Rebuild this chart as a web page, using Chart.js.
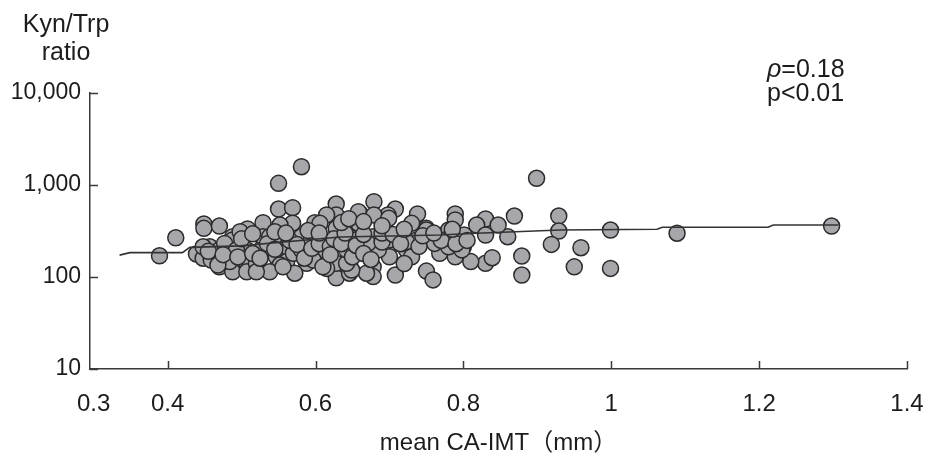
<!DOCTYPE html>
<html>
<head>
<meta charset="utf-8">
<style>
  html, body { margin: 0; padding: 0; background: #fff; }
  #wrap { width: 928px; height: 464px; }
</style>
<script src="https://cdn.jsdelivr.net/npm/chart.js@4.4.1/dist/chart.umd.min.js"></script>
</head>
<body>
<div id="wrap"><canvas id="scatterChart" width="928" height="464"></canvas></div>
<script>
// mean CA-IMT (mm) and Kyn/Trp ratio
const imtValues = [
  0.389, 0.411, 0.550, 0.581, 0.550, 0.569, 0.449, 0.449, 0.470, 0.529,
  0.628, 0.508, 0.488, 0.628, 0.599, 0.569, 0.552,
  0.899, 0.679, 0.708, 0.738, 0.789, 0.789, 0.830, 0.869, 0.929, 0.929,
  0.919, 0.959, 0.999, 0.999, 0.950, 0.879, 0.879, 0.830, 0.839, 0.810,
  0.750, 0.759, 0.708, 0.860, 0.847, 0.818, 0.830, 0.789, 0.800, 0.789,
  0.768, 0.750, 0.730, 0.737, 0.723, 0.730, 0.700, 0.678, 0.660, 0.658,
  0.678, 0.678, 0.669, 0.646, 0.698,
  0.628, 0.628, 0.658, 0.679, 0.699, 0.750, 0.780, 0.801, 0.649, 0.628,
  0.700, 0.685, 0.671, 0.649, 0.700, 0.723, 0.761, 0.780, 0.798, 0.780,
  0.615, 0.439, 0.448, 0.457, 0.448, 0.470, 0.470, 0.488, 0.488, 0.498,
  0.507, 0.507, 0.507, 0.520, 0.529, 0.529, 0.538, 0.538, 0.547, 0.552,
  0.561, 0.561, 0.570, 0.581, 0.581, 0.592, 0.588, 0.601, 0.610, 0.610,
  0.615, 0.572, 0.552, 0.538, 0.520, 0.484, 0.461,
  0.459, 0.468, 0.477, 0.493, 0.606, 0.597, 0.556, 0.610, 0.642, 0.642,
  0.655, 1.089, 1.298,
  0.455, 0.475, 0.495, 0.515, 0.525, 0.535, 0.545, 0.565, 0.575, 0.585,
  0.595, 0.605, 0.620, 0.620, 0.625, 0.635, 0.640, 0.650, 0.655, 0.665,
  0.665, 0.675, 0.690, 0.690, 0.705, 0.715, 0.720, 0.740, 0.745, 0.770,
  0.790, 0.805, 0.500, 0.515, 0.545, 0.560, 0.590, 0.605, 0.635, 0.645,
  0.665, 0.690, 0.720, 0.760, 0.785
];
const ratioValues = [
  170, 267, 1043, 1581, 548, 566, 377, 338, 358, 389,
  621, 333, 274, 98, 389, 385, 367,
  1183, 659, 548, 484, 484, 417, 427, 460, 460, 316,
  226, 208, 324, 124, 129, 169, 105, 141, 162, 147,
  116, 93, 105, 274, 367, 367, 286, 274, 213, 166,
  181, 338, 383, 253, 197, 166, 213, 274, 492, 383,
  129, 101, 110, 110, 472,
  472, 338, 513, 472, 435, 324, 324, 286, 119, 141,
  166, 197, 232, 264, 253, 242, 232, 213, 197, 264,
  472, 178, 160, 213, 213, 197, 129, 114, 253, 311,
  197, 141, 114, 141, 213, 274, 197, 274, 166, 242,
  213, 147, 181, 197, 274, 232, 141, 166, 253, 197,
  124, 110, 135, 114, 114, 147, 166,
  153, 135, 232, 197, 383, 153, 129, 129, 141, 197,
  253, 299, 358,
  190, 175, 165, 180, 160, 230, 200, 250, 225, 160,
  205, 230, 215, 175, 260, 230, 300, 165, 220, 290,
  180, 155, 240, 300, 290, 230, 140, 215, 280, 250,
  230, 250, 260, 295, 310, 300, 320, 300, 390, 430,
  400, 360, 330, 300, 330
];
// fitted trend line
const trendX = [0.335, 0.349, 0.420, 0.430, 0.498, 0.633, 0.768, 0.818, 0.931, 1.062, 1.069, 1.212, 1.219, 1.307];
const trendY = [173, 184, 184, 210, 218, 272, 286, 299, 324, 330, 347, 347, 367, 367];

const xTicks = [0.3, 0.4, 0.6, 0.8, 1, 1.2, 1.4];
const yTicks = [10, 100, 1000, 10000];

const axisColor = '#3a3a3a';
const textColor = '#1c1c1c';
const fontFamily = '"Liberation Sans", Arial, Helvetica, sans-serif';

const points = imtValues.map((x, i) => ({ x: x, y: ratioValues[i] }));
const trend = trendX.map((x, i) => ({ x: x, y: trendY[i] }));

// inward tick marks + free text (y title, correlation note)
const extras = {
    id: 'extras',
    afterDraw(chart) {
        const { ctx, chartArea, scales } = chart;
        ctx.save();
        ctx.strokeStyle = axisColor;
        ctx.lineWidth = 1.5;
        ctx.beginPath();
        xTicks.filter(v => v > 0.35).forEach(v => {
            const px = Math.round(scales.x.getPixelForValue(v)) + 0.5;
            ctx.moveTo(px, chartArea.bottom);
            ctx.lineTo(px, chartArea.bottom - 8);
        });
        yTicks.forEach(v => {
            const py = Math.round(scales.y.getPixelForValue(v)) + 0.5;
            ctx.moveTo(chartArea.left, py);
            ctx.lineTo(chartArea.left + 8, py);
        });
        ctx.stroke();

        ctx.fillStyle = textColor;
        ctx.font = '25px ' + fontFamily;
        ctx.textBaseline = 'middle';
        ctx.textAlign = 'center';
        ctx.fillText('Kyn/Trp', 66, 25);
        ctx.fillText('ratio', 66, 53);

        ctx.textAlign = 'left';
        ctx.font = 'italic 25px ' + fontFamily;
        ctx.fillText('ρ', 767, 70);
        const w = ctx.measureText('ρ').width;
        ctx.font = '25px ' + fontFamily;
        ctx.fillText('=0.18', 767 + w, 70);
        ctx.fillText('p<0.01', 767, 94);
        ctx.restore();
    }
};

const ctx = document.getElementById('scatterChart').getContext('2d');
const scatterChart = new Chart(ctx, {
    type: 'scatter',
    data: {
        datasets: [
            {
                type: 'line',
                data: trend,
                showLine: true,
                borderColor: '#333',
                borderWidth: 1.6,
                pointRadius: 0,
                tension: 0,
                order: 0
            },
            {
                data: points,
                pointRadius: 8,
                pointBorderWidth: 1.5,
                backgroundColor: '#a6a6ab',
                borderColor: '#2b2b2b',
                order: 1
            }
        ]
    },
    options: {
        responsive: false,
        animation: false,
        layout: { padding: { top: 93, right: 21, left: 0, bottom: 0 } },
        plugins: {
            legend: { display: false },
            tooltip: { enabled: false }
        },
        scales: {
            x: {
                type: 'linear',
                min: 0.295,
                max: 1.4,
                afterBuildTicks: s => { s.ticks = xTicks.map(v => ({ value: v })); },
                afterFit: s => { s.height = 95; s.paddingLeft = 0; s.paddingRight = 0; },
                ticks: {
                    autoSkip: false,
                    maxRotation: 0,
                    padding: 21,
                    color: textColor,
                    font: { family: fontFamily, size: 24 },
                    callback: v => String(v)
                },
                grid: { display: false, drawTicks: false },
                border: { display: true, color: axisColor, width: 1.5 },
                title: {
                    display: true,
                    text: 'mean CA-IMT（mm）',
                    color: textColor,
                    font: { family: fontFamily + ', "Noto Sans CJK JP"', size: 24 },
                    padding: { top: 0, bottom: 6 }
                }
            },
            y: {
                type: 'logarithmic',
                min: 10,
                max: 10000,
                afterBuildTicks: s => { s.ticks = yTicks.map(v => ({ value: v })); },
                afterFit: s => { s.width = 90; s.paddingTop = 0; s.paddingBottom = 0; },
                ticks: {
                    padding: 9,
                    color: textColor,
                    font: { family: fontFamily, size: 23 },
                    callback: v => v.toLocaleString('en-US')
                },
                grid: { display: false, drawTicks: false },
                border: { display: true, color: axisColor, width: 1.5 }
            }
        }
    },
    plugins: [extras]
});
</script>
</body>
</html>
